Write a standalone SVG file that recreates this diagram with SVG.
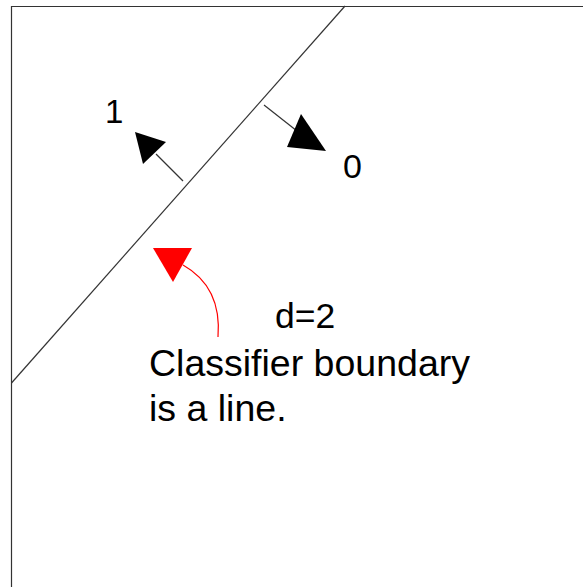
<svg xmlns="http://www.w3.org/2000/svg" width="583" height="587" viewBox="0 0 583 587">
<style>
.ln{stroke:#333;stroke-width:1.2;fill:none}
.t{font-family:"Liberation Sans",Arial,sans-serif;fill:#000}
</style>
<rect width="583" height="587" fill="#fff"/>
<g id="frame">
<path class="ln" d="M11.5,587 V6.5 H583" stroke-width="1.5"/>
</g>
<g id="boundary">
<line class="ln" x1="345" y1="6" x2="11.5" y2="383"/>
</g>
<g id="connectors">
<line class="ln" x1="183" y1="181" x2="156" y2="154"/>
<polygon points="135,132 166,142 143,164" fill="#000"/>
<line class="ln" x1="264" y1="105" x2="297" y2="131"/>
<polygon points="301,114 287,147 326,151" fill="#000"/>
<path d="M218,337 Q222,287 183,265" fill="none" stroke="#f00" stroke-width="1.2"/>
<polygon points="153,248 192,248 173,282" fill="#f00"/>
</g>
<g id="labels">
<text class="t" x="105" y="123" font-size="33">1</text>
<text class="t" x="343" y="178" font-size="34">0</text>
<text class="t" x="275" y="328" font-size="35.5">d=2</text>
<text class="t" x="149" y="376" font-size="37.5">Classifier boundary</text>
<text class="t" x="149" y="421" font-size="37.5">is a line.</text>
</g>
</svg>
